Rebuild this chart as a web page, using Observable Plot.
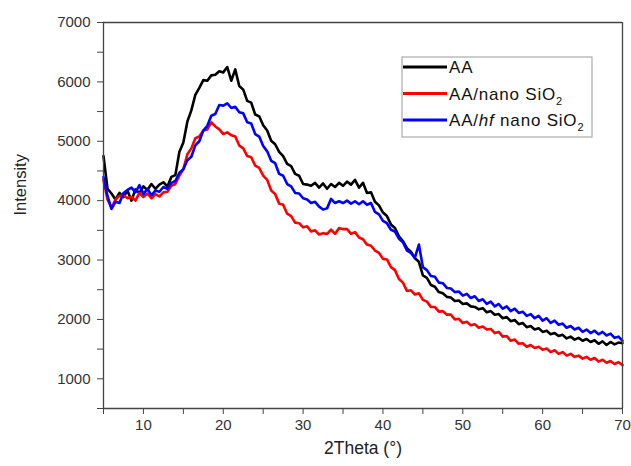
<!DOCTYPE html>
<html>
<head>
<meta charset="utf-8">
<script src="https://cdn.jsdelivr.net/npm/d3@7"></script>
<script src="https://cdn.jsdelivr.net/npm/@observablehq/plot@0.6"></script>
<style>
  html, body { margin: 0; padding: 0; background: #fff; }
  #chart { width: 631px; height: 466px; }
  svg { font-family: "Liberation Sans", Arial, sans-serif; }
</style>
</head>
<body>
<div id="chart"></div>
<script>
// 2Theta grid: 5 to 70 in 0.5 degree steps
const thetaStart = 5, thetaStep = 0.5;

const seriesNames = ["AA", "AA/nano SiO2", "AA/hf nano SiO2"];
const seriesColors = ["#000000", "#ff0000", "#0000ff"];

const intensityAA = [
  4750,4200,4120,4020,4130,4060,4170,4000,4190,4130,
  4240,4180,4280,4200,4270,4310,4240,4400,4430,4820,
  4980,5330,5520,5780,5900,6030,6020,6110,6120,6180,
  6160,6250,6020,6210,5930,5870,5680,5650,5450,5420,
  5270,5180,5010,4950,4820,4750,4620,4580,4450,4420,
  4280,4270,4250,4300,4220,4290,4200,4280,4230,4300,
  4250,4320,4270,4350,4220,4300,4130,4140,3980,3920,
  3800,3740,3600,3540,3400,3320,3200,3140,3030,2970,
  2740,2700,2580,2550,2460,2440,2380,2370,2310,2320,
  2260,2270,2220,2210,2170,2190,2120,2140,2080,2090,
  2020,2040,1970,1990,1920,1940,1870,1890,1830,1850,
  1790,1810,1750,1770,1720,1740,1680,1710,1660,1690,
  1640,1670,1620,1650,1590,1630,1570,1620,1580,1610,
  1600
];

const intensityNano = [
  4350,4020,3880,4020,4080,4090,4040,4060,4000,4130,
  4060,4120,4040,4110,4070,4140,4150,4250,4280,4420,
  4530,4780,4880,5050,5080,5180,5200,5320,5250,5200,
  5120,5150,5100,5080,4930,4880,4750,4730,4590,4550,
  4420,4350,4170,4110,3950,3930,3780,3740,3630,3620,
  3550,3570,3480,3500,3430,3450,3440,3510,3440,3540,
  3520,3520,3440,3470,3380,3350,3260,3240,3160,3120,
  3020,3010,2880,2830,2680,2620,2480,2490,2420,2440,
  2330,2300,2210,2210,2130,2140,2080,2080,2000,2010,
  1940,1960,1900,1920,1860,1880,1830,1840,1770,1790,
  1710,1720,1640,1660,1590,1600,1540,1570,1520,1540,
  1490,1510,1450,1480,1420,1450,1390,1420,1370,1390,
  1340,1370,1320,1350,1290,1320,1270,1300,1250,1280,
  1230
];

const intensityHf = [
  4400,4080,3860,3980,3960,4130,4180,4220,4140,4260,
  4110,4200,4090,4170,4150,4230,4200,4300,4330,4470,
  4530,4680,4740,4930,5000,5180,5260,5430,5460,5610,
  5600,5640,5560,5580,5490,5470,5320,5300,5120,5080,
  4920,4830,4670,4630,4450,4420,4280,4240,4130,4120,
  4040,4020,3960,3980,3900,3850,3870,4030,3960,3990,
  3960,4000,3950,3990,3940,3990,3930,3960,3810,3770,
  3660,3620,3510,3480,3360,3300,3160,3120,3040,3260,
  2880,2830,2730,2720,2620,2610,2530,2520,2460,2470,
  2400,2430,2360,2390,2310,2340,2260,2300,2220,2260,
  2180,2220,2140,2180,2110,2130,2060,2090,2020,2060,
  1980,2020,1940,1980,1910,1930,1860,1890,1830,1860,
  1790,1830,1770,1810,1750,1790,1730,1760,1690,1710,
  1640
];

const xTicks = [5,10,15,20,25,30,35,40,45,50,55,60,65,70];
const xTickLabels = ["", "10", "", "20", "", "30", "", "40", "", "50", "", "60", "", "70"];
const yTicks = [500,1000,1500,2000,2500,3000,3500,4000,4500,5000,5500,6000,6500,7000];
const yTickLabels = ["", "1000", "", "2000", "", "3000", "", "4000", "", "5000", "", "6000", "", "7000"];

const xDomain = [5, 70];
const yDomain = [500, 7000];

// tidy table
const seriesValues = [intensityAA, intensityNano, intensityHf];
const rows = [];
seriesValues.forEach((vals, si) => {
  vals.forEach((v, i) => rows.push({ series: seriesNames[si], theta: thetaStart + i * thetaStep, intensity: v }));
});

const axisColor = "#444";
const labelColor = "#333";

const plot = Plot.plot({
  width: 631,
  height: 466,
  marginLeft: 103,
  marginRight: 9,
  marginTop: 22,
  marginBottom: 58,
  style: { fontFamily: "'Liberation Sans', Arial, sans-serif", background: "#fff" },
  x: { domain: xDomain },
  y: { domain: yDomain },
  color: { domain: seriesNames, range: seriesColors },
  marks: [
    Plot.line(rows, { x: "theta", y: "intensity", z: "series", stroke: "series", strokeWidth: 2.6, strokeLinejoin: "round" }),
    Plot.ruleY([yDomain[0]], { stroke: axisColor, strokeWidth: 1.3 }),
    Plot.ruleY([yDomain[1]], { stroke: axisColor, strokeWidth: 1.3 }),
    Plot.ruleX([xDomain[0]], { stroke: axisColor, strokeWidth: 1.3 }),
    Plot.ruleX([xDomain[1]], { stroke: axisColor, strokeWidth: 1.3 }),
    Plot.axisX({ ticks: xTicks, tickFormat: (d) => xTickLabels[xTicks.indexOf(d)], tickSize: 6, tickPadding: 5, fontSize: 15, label: null, stroke: axisColor, color: labelColor }),
    Plot.axisY({ ticks: yTicks, tickFormat: (d) => yTickLabels[yTicks.indexOf(d)], tickSize: 6, tickPadding: 7, fontSize: 15, label: null, stroke: axisColor, color: labelColor }),
    Plot.text(["Intensity"], { frameAnchor: "left", rotate: -90, dx: -83, fontSize: 16.5, fill: "#222" }),
    Plot.text(["2Theta (°)"], { frameAnchor: "bottom", dy: 45, fontSize: 17.5, fill: "#222" })
  ]
});

document.getElementById("chart").appendChild(plot);

// Legend box drawn into the same SVG
const svg = d3.select(plot);
const lg = svg.append("g").attr("transform", "translate(402,57)").attr("text-anchor", "start");
lg.append("rect").attr("width", 190).attr("height", 80).attr("fill", "#fff").attr("stroke", "#999").attr("stroke-width", 1);
const legendRows = [
  { parts: [["AA", "normal"]], sub: null },
  { parts: [["AA/nano SiO", "normal"]], sub: "2" },
  { parts: [["AA/", "normal"], ["hf", "italic"], [" nano SiO", "normal"]], sub: "2" }
];
legendRows.forEach((r, i) => {
  const y = 10 + i * 26.5;
  lg.append("line").attr("x1", 1).attr("x2", 45).attr("y1", y).attr("y2", y)
    .attr("stroke", seriesColors[i]).attr("stroke-width", 2.8);
  const t = lg.append("text").attr("x", 47).attr("y", y + 6).attr("text-anchor", "start")
    .attr("font-size", 17).attr("letter-spacing", 0.8).attr("fill", "#111")
    .attr("font-family", "'Liberation Sans', Arial, sans-serif");
  r.parts.forEach(([s, st]) => t.append("tspan").attr("font-style", st).text(s));
  if (r.sub) t.append("tspan").attr("font-size", 11).attr("dy", 5).text(r.sub);
});
</script>
</body>
</html>
